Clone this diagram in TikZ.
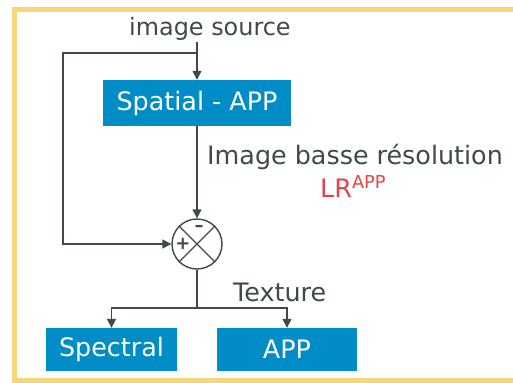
\documentclass[tikz,border=0pt]{standalone}
\usepackage{fontspec}
\setmainfont{DejaVu Sans}
\usetikzlibrary{arrows.meta}
\definecolor{frameY}{HTML}{F5D77A}
\definecolor{boxB}{HTML}{008CC6}
\definecolor{lineG}{HTML}{3F4A4A}
\definecolor{redL}{HTML}{E54545}
\tikzset{
  bluebox/.style={fill=boxB, text=white, inner sep=0pt, font=\fontsize{25.5}{30}\selectfont},
  lbl/.style={text=lineG, inner sep=0pt, anchor=base west, font=\fontsize{25.5}{30}\selectfont},
  conn/.style={draw=lineG, line width=1.4pt},
  arr/.style={conn, -{Triangle[length=9pt,width=9pt]}},
  sign/.style={text=lineG, inner sep=0pt, font=\bfseries\fontsize{18}{20}\selectfont},
}
\begin{document}
\begin{tikzpicture}[x=1bp,y=-1bp]
\useasboundingbox (0,0) rectangle (513,382);
\fill[white] (0,0) rectangle (513,382);
\draw[frameY, line width=5bp] (14.5,9) rectangle (530,380);
% labels
\node[lbl, font=\fontsize{24}{28}\selectfont] (src) at (129,35) {image source};
\node[lbl] (ibr) at (207,164) {Image basse résolution};
\node[lbl, text=redL] (lr) at (320,197) {LR\textsuperscript{APP}};
\node[lbl] (tex) at (233,301) {Texture};
% boxes
\node[bluebox, minimum width=188bp, minimum height=46bp] (spat) at (197,103) {Spatial - APP};
\node[bluebox, minimum width=131bp, minimum height=43bp] (spec) at (111.5,349.5) {Spectral};
\node[bluebox, minimum width=140bp, minimum height=43bp] (app) at (287,349.5) {APP};
% summation
\node[circle, draw=lineG, line width=1.4pt, minimum size=50bp, inner sep=0pt] (sum) at (197,244) {};
\draw[conn] (sum.north west) -- (sum.south east);
\draw[conn] (sum.north east) -- (sum.south west);
\node[sign] (plus) at (183,244) {+};
\node[sign] (minus) at (199,228) {–};
% connectors
\coordinate (top) at (197,42);
\coordinate (j1) at (197,53);
\coordinate (c1) at (63,53);
\coordinate (c2) at (63,244);
\coordinate (j2) at (197,308);
\draw[arr] (top) -- (spat.north);
\draw[arr] (j1) -- (c1) -- (c2) -- (sum.west);
\draw[arr] (spat.south) -- (sum.north);
\draw[conn] (sum.south) -- (j2);
\draw[arr] (j2) -| (spec.north);
\draw[arr] (j2) -| (app.north);
\end{tikzpicture}
\end{document}
